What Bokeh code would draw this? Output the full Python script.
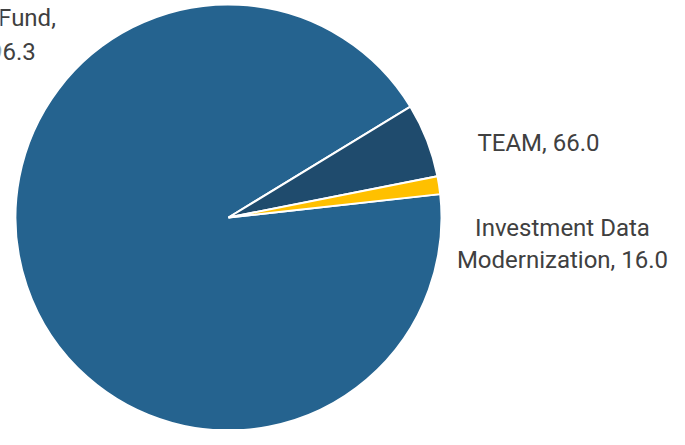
import numpy as np
from bokeh.plotting import figure
from bokeh.models import ColumnDataSource
from bokeh.core.properties import value
from bokeh.embed import file_html
from bokeh.resources import INLINE

# ---- data ----
categories = ["Trust Fund", "TEAM", "Investment Data Modernization"]
values = [1096.3, 66.0, 16.0]
colors = ["#25638F", "#1F4B6D", "#FFC000"]

# ---- layout constants (pixels in figure space, y measured from bottom) ----
W, H = 669, 429
CX, CY, R = 228, 212, 213
START_DEG = 6.3  # angle where the first slice starts (clockwise)

vals = np.array(values)
frac = vals / vals.sum()
cum = np.concatenate([[0], np.cumsum(frac)])
theta0 = np.deg2rad(START_DEG)
starts = theta0 - 2 * np.pi * cum[:-1]
ends = theta0 - 2 * np.pi * cum[1:]

p = figure(width=W, height=H, x_range=(0, W), y_range=(0, H),
           output_backend="svg", toolbar_location=None, min_border=0)
p.axis.visible = False
p.grid.visible = False
p.outline_line_color = None
p.background_fill_color = "white"
p.border_fill_color = "white"

src = ColumnDataSource(dict(start=starts, end=ends, color=colors, cat=categories))
p.wedge(x=CX, y=CY, radius=R, start_angle="start", end_angle="end",
        direction="clock", fill_color="color", line_color="white",
        line_width=2, source=src)

# ---- data labels ----
texts = [
    f"{categories[0]},", f"{values[0]:,.1f}",
    f"{categories[1]}, {values[1]:,.1f}",
    "Investment Data", f"Modernization, {values[2]:,.1f}",
]
tx = [-4, -4, 538, 562, 562]
ty = [412, 378, 286.5, 202, 170]
p.text(x=tx, y=ty, text=texts, text_font=value("Roboto"),
       text_font_size="24px", text_color="#404040",
       text_align="center", text_baseline="alphabetic")

open("out.html", "w").write(file_html(p, INLINE))
